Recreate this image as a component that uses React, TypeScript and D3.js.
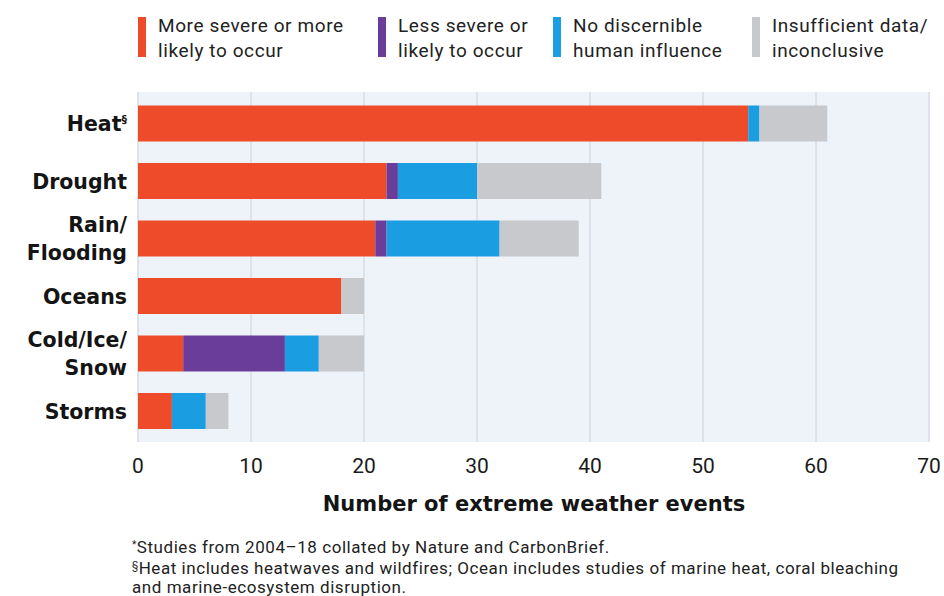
import { useEffect } from "react";
import * as d3 from "d3";

const W = 944;
const H = 596;
const PLOT = { left: 138, right: 929, top: 94.75, bottom: 439.75 };

const categories = ["Heat", "Drought", "Rain/Flooding", "Oceans", "Cold/Ice/Snow", "Storms"];
const categoryLines = [["Heat"], ["Drought"], ["Rain/", "Flooding"], ["Oceans"], ["Cold/Ice/", "Snow"], ["Storms"]];

const moreSevere = [54, 22, 21, 18, 4, 3];
const lessSevere = [0, 1, 1, 0, 9, 0];
const noInfluence = [1, 7, 10, 0, 3, 3];
const insufficient = [6, 11, 7, 2, 4, 2];

const seriesKeys = ["more", "less", "none", "insufficient"];
const seriesColors = ["#ee4b2b", "#6a3d9a", "#1b9de2", "#c7c9cc"];
const legendLines = [
  ["More severe or more", "likely to occur"],
  ["Less severe or", "likely to occur"],
  ["No discernible", "human influence"],
  ["Insufficient data/", "inconclusive"],
];
const legendX = [138, 378, 553, 752];

const xTicks = [0, 10, 20, 30, 40, 50, 60, 70];

const BOLD = "'DejaVu Sans', sans-serif";
const REG = "Roboto, sans-serif";

export default function App() {
  useEffect(() => {
    document.body.style.margin = "0";
  }, []);

  const x = d3.scaleLinear().domain([0, 70]).range([PLOT.left, PLOT.right]);
  const y = d3
    .scaleBand<string>()
    .domain(categories)
    .range([PLOT.top, PLOT.bottom])
    .paddingInner(0.374)
    .paddingOuter(0.187);

  const rows = categories.map((c, i) => ({
    cat: c,
    more: moreSevere[i],
    less: lessSevere[i],
    none: noInfluence[i],
    insufficient: insufficient[i],
  }));
  const stacked = d3.stack<any>().keys(seriesKeys)(rows);

  return (
    <svg width={W} height={H} style={{ display: "block", background: "#fff" }}>
      <rect x={137} y={92} width={793} height={350} fill="#eef3f9" />
      {xTicks.map((t) => (
        <line key={t} x1={x(t)} x2={x(t)} y1={92} y2={442} stroke="#cdd2d8" strokeWidth={1} />
      ))}

      {stacked.map((layer, k) =>
        layer.map((d, i) =>
          d[1] > d[0] ? (
            <rect
              key={`${k}-${i}`}
              x={x(d[0])}
              width={x(d[1]) - x(d[0])}
              y={y(categories[i])}
              height={y.bandwidth()}
              fill={seriesColors[k]}
            />
          ) : null
        )
      )}

      {categories.map((c, i) => {
        const lines = categoryLines[i];
        const cy = (y(c) ?? 0) + y.bandwidth() / 2;
        return (
          <text key={c} textAnchor="end" fontFamily={BOLD} fontWeight={700} fontSize={20.5} fill="#141414">
            {lines.map((l, j) => (
              <tspan key={j} x={127} y={cy + 7.5 + (j - (lines.length - 1) / 2) * 27.5}>
                {l}
                {c === "Heat" && <tspan fontSize={11} dy={-8}>§</tspan>}
              </tspan>
            ))}
          </text>
        );
      })}

      {xTicks.map((t) => (
        <text key={t} x={x(t)} y={473} textAnchor="middle" fontFamily={REG} fontSize={21} fill="#1a1a1a">
          {t}
        </text>
      ))}
      <text x={534} y={511} textAnchor="middle" fontFamily={BOLD} fontWeight={700} fontSize={21} fill="#141414">
        Number of extreme weather events
      </text>

      {legendLines.map((lines, i) => (
        <g key={i}>
          <rect x={legendX[i]} y={17} width={8} height={40} fill={seriesColors[i]} />
          {lines.map((l, j) => (
            <text
              key={j}
              x={legendX[i] + 20}
              y={32 + j * 25}
              fontFamily={REG}
              fontSize={19}
              letterSpacing={0.6}
              fill="#222"
            >
              {l}
            </text>
          ))}
        </g>
      ))}

      <g fontFamily={REG} fontSize={17} letterSpacing={0.55} fill="#222">
        <text x={132} y={553}>
          <tspan fontSize={10} dy={-5}>*</tspan>
          <tspan dy={5}>Studies from 2004–18 collated by Nature and CarbonBrief.</tspan>
        </text>
        <text x={132} y={574}>
          <tspan fontSize={10} dy={-5}>§</tspan>
          <tspan dy={5}>Heat includes heatwaves and wildfires; Ocean includes studies of marine heat, coral bleaching</tspan>
        </text>
        <text x={132} y={593}>and marine-ecosystem disruption.</text>
      </g>
    </svg>
  );
}
